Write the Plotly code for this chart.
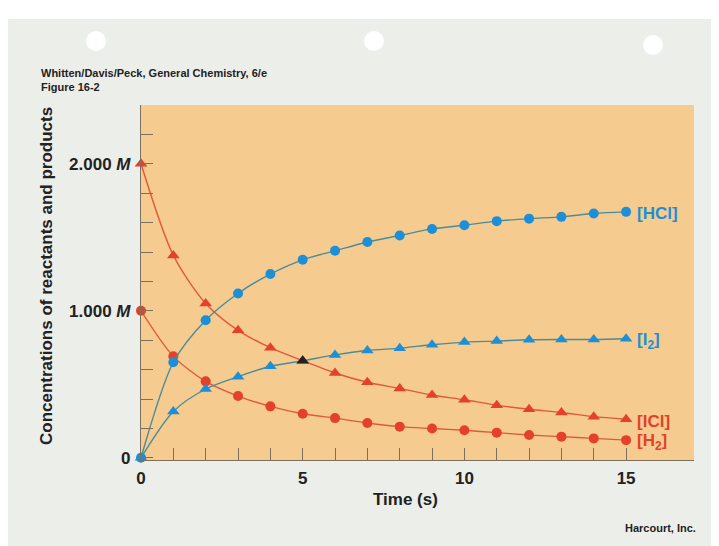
import plotly.graph_objects as go

# ---- data ----
time_s = list(range(16))
h2 = [1.0, 0.69, 0.52, 0.42, 0.35, 0.30, 0.27, 0.237, 0.212, 0.199, 0.187, 0.171, 0.155, 0.144, 0.132, 0.12]
icl = [2.0, 1.377, 1.05, 0.867, 0.749, 0.66, 0.577, 0.514, 0.472, 0.427, 0.395, 0.358, 0.33, 0.308, 0.28, 0.262]
hcl = [0.0, 0.65, 0.936, 1.118, 1.25, 1.347, 1.408, 1.468, 1.512, 1.557, 1.582, 1.61, 1.627, 1.639, 1.662, 1.673]
i2 = [0.0, 0.315, 0.468, 0.552, 0.623, 0.66, 0.70, 0.73, 0.746, 0.769, 0.787, 0.794, 0.803, 0.805, 0.805, 0.81]

x_tickvals = [0, 5, 10, 15]
x_ticktext = ["0", "5", "10", "15"]
x_minorvals = [1, 2, 3, 4, 6, 7, 8, 9, 11, 12, 13, 14]
y_tickvals = [0, 1.0, 2.0]
y_ticktext = ["0", "1.000 <i>M</i>", "2.000 <i>M</i>"]
y_minorvals = [0.2, 0.4, 0.6, 0.8, 1.2, 1.4, 1.6, 1.8, 2.2]

series_labels = ["[HCl]", "[I<sub>2</sub>]", "[ICl]", "[H<sub>2</sub>]"]

# ---- styling ----
W, H = 719, 546
L, R, T, B = 133, 686, 97, 452
PAPER = "#eceeea"
ORANGE = "#f5cb8f"
BLUE = "#1d8fd6"
BLUE_LINE = "#4a8c9a"
RED = "#e4412b"
RED_LINE = "#e2583c"
AXIS = "#7d705c"
TEXT = "#222222"
FONT = "Liberation Sans"


def px(xp):
    return (xp - L) / (R - L)


def py(yp):
    return (B - yp) / (B - T)


fig = go.Figure()


def add_series(y, sym, mcol, lcol, mcolors=None):
    fig.add_trace(go.Scatter(
        x=time_s, y=y, mode="lines+markers",
        line=dict(color=lcol, width=1.4, shape="spline", smoothing=0.8),
        marker=dict(symbol=sym, size=10 if sym == "circle" else 11,
                    color=mcolors if mcolors else mcol, line=dict(width=0)),
        cliponaxis=False, showlegend=False, hoverinfo="skip"))


add_series(h2, "circle", RED, RED_LINE)
add_series(icl, "triangle-up", RED, RED_LINE)
add_series(hcl, "circle", BLUE, BLUE_LINE)
i2_colors = [BLUE] * len(time_s)
i2_colors[5] = "#222222"
add_series(i2, "triangle-up", BLUE, BLUE_LINE, i2_colors)

# series labels at the right end
for lab, yv, col in zip(series_labels, [hcl[-1], i2[-1], icl[-1], h2[-1]], [BLUE, BLUE, RED, RED]):
    fig.add_annotation(x=time_s[-1], y=yv, xref="x", yref="y", text=lab,
                       xanchor="left", yanchor="middle", xshift=9, yshift=-2, showarrow=False,
                       font=dict(family=FONT, size=17, color=col, weight="bold"))

# axis title annotations and page texts
fig.add_annotation(x=px(397), y=py(491), xref="paper", yref="paper", text="Time (s)",
                   showarrow=False, xanchor="center", yanchor="middle",
                   font=dict(family=FONT, size=17, color=TEXT, weight="bold"))
fig.add_annotation(x=px(38), y=py(268), xref="paper", yref="paper",
                   text="Concentrations of reactants and products", textangle=-90,
                   showarrow=False, xanchor="center", yanchor="middle",
                   font=dict(family=FONT, size=17, color=TEXT, weight="bold"))
fig.add_annotation(x=px(31), y=py(65), xref="paper", yref="paper",
                   text="Whitten/Davis/Peck, General Chemistry, 6/e",
                   showarrow=False, xanchor="left", yanchor="middle",
                   font=dict(family=FONT, size=11, color=TEXT, weight="bold"))
fig.add_annotation(x=px(31), y=py(79), xref="paper", yref="paper",
                   text="Figure 16-2",
                   showarrow=False, xanchor="left", yanchor="middle",
                   font=dict(family=FONT, size=11, color=TEXT, weight="bold"))
fig.add_annotation(x=px(690), y=py(520), xref="paper", yref="paper",
                   text="Harcourt, Inc.",
                   showarrow=False, xanchor="right", yanchor="middle",
                   font=dict(family=FONT, size=11, color=TEXT, weight="bold"))

# page decorations: top white strip and punched holes
shapes = [dict(type="rect", xref="paper", yref="paper", x0=px(0), x1=px(W), y0=py(0), y1=py(11),
               fillcolor="white", line=dict(width=0), layer="below")]
for hx, hy in [(88, 33), (366, 33), (645, 37)]:
    shapes.append(dict(type="circle", xref="paper", yref="paper",
                       x0=px(hx - 10), x1=px(hx + 10), y0=py(hy + 10), y1=py(hy - 10),
                       fillcolor="white", line=dict(width=0), layer="below"))

fig.update_layout(
    width=W, height=H,
    margin=dict(l=L, r=W - R, t=T, b=H - B, pad=0),
    paper_bgcolor=PAPER, plot_bgcolor=ORANGE,
    shapes=shapes,
    xaxis=dict(range=[0, 17.1], tickvals=x_tickvals, ticktext=x_ticktext,
               ticks="inside", ticklen=12, tickwidth=1, tickcolor=AXIS,
               minor=dict(tickvals=x_minorvals, ticks="inside", ticklen=12, tickwidth=1,
                          tickcolor=AXIS, showgrid=False),
               ticklabelstandoff=2,
               showline=True, linecolor=AXIS, linewidth=1.2, showgrid=False, zeroline=False,
               tickfont=dict(family=FONT, size=17, color=TEXT, weight="bold")),
    yaxis=dict(range=[-0.015, 2.4], tickvals=y_tickvals, ticktext=y_ticktext,
               ticks="inside", ticklen=12, tickwidth=1, tickcolor=AXIS,
               minor=dict(tickvals=y_minorvals, ticks="inside", ticklen=12, tickwidth=1,
                          tickcolor=AXIS, showgrid=False),
               ticklabelstandoff=6,
               showline=True, linecolor=AXIS, linewidth=1.2, showgrid=False, zeroline=False,
               tickfont=dict(family=FONT, size=17, color=TEXT, weight="bold")),
)

fig.write_html("out.html")
